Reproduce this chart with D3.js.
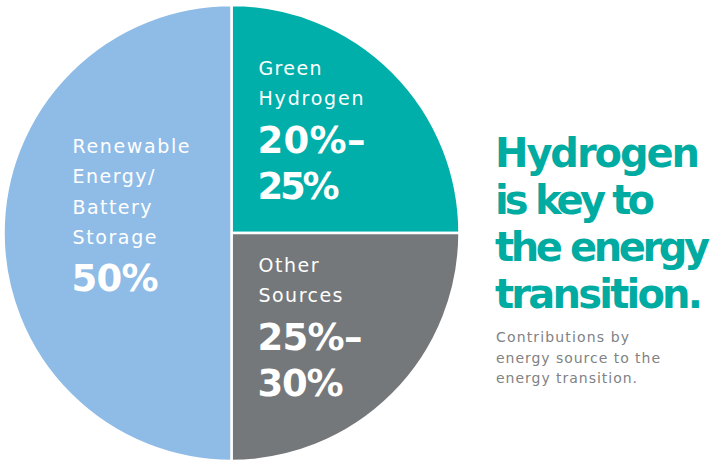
<!DOCTYPE html>
<html>
<head>
<meta charset="utf-8">
<script src="https://cdn.jsdelivr.net/npm/d3@7"></script>
<style>
  html, body { margin: 0; padding: 0; background: #fff; overflow: hidden; }
  svg { display: block; }
</style>
</head>
<body>
<svg id="chart"></svg>
<script>
// ---- data ----
var categories = ["Green Hydrogen", "Other Sources", "Renewable Energy/Battery Storage"];
var shares = [25, 25, 50];
var nameLines = [["Green", "Hydrogen"], ["Other", "Sources"], ["Renewable", "Energy/", "Battery", "Storage"]];
var valueLines = [["20%–", "25%"], ["25%–", "30%"], ["50%"]];
var colors = ["#00afa9", "#75787b", "#8fbce6"];
var titleLines = ["Hydrogen", "is key to", "the energy", "transition."];
var subtitleLines = ["Contributions by", "energy source to the", "energy transition."];

(function drawChart() {
  var width = 713,
    height = 461,
    cx = 231.5,
    cy = 233,
    radius = 228;

  var svg = d3.select("#chart")
    .attr("width", width)
    .attr("height", height);

  var data = categories.map(function(c, i) {
    return { name: c, value: shares[i], color: colors[i], names: nameLines[i], values: valueLines[i] };
  });

  var pie = d3.pie()
    .sort(null)
    .value(function(d) { return d.value; });

  var arc = d3.arc()
    .innerRadius(0)
    .outerRadius(radius);

  var g = svg.append("g")
    .attr("transform", "translate(" + cx + "," + cy + ")");

  g.selectAll("path")
    .data(pie(data))
    .enter().append("path")
    .attr("d", arc)
    .style("fill", function(d) { return d.data.color; })
    .style("stroke", "#fff")
    .style("stroke-width", "2.5px");

  // label blocks: left edge and first baseline, relative to pie centre
  var labelPos = [[27, -158], [27, 39], [-159, -80]];
  var nameWidths = [[63, 105], [60, 84], [117, 82, 79, 84]];
  var valueWidths = [[108, 82], [105, 86], [87]];

  var labels = g.selectAll(".label")
    .data(data)
    .enter().append("g")
    .attr("class", "label")
    .attr("transform", function(d, i) {
      return "translate(" + labelPos[i][0] + "," + labelPos[i][1] + ")";
    });

  labels.each(function(d, i) {
    var sel = d3.select(this);
    d.names.forEach(function(t, j) {
      sel.append("text")
        .attr("x", 0)
        .attr("y", j * 30.3)
        .attr("textLength", nameWidths[i][j])
        .style("font-family", "'DejaVu Sans', sans-serif")
        .style("font-size", "19px")
        .style("fill", "#fff")
        .text(t);
    });
    var base = (d.names.length - 1) * 30.3;
    d.values.forEach(function(t, j) {
      sel.append("text")
        .attr("x", -1)
        .attr("y", base + 47.5 + j * 46.5)
        .attr("textLength", valueWidths[i][j])
        .style("font-family", "'DejaVu Sans', sans-serif")
        .style("font-weight", "bold")
        .style("font-size", "37px")
        .style("fill", "#fff")
        .text(t);
    });
  });

  // title
  var titleWidths = [205, 160, 215, 208];
  svg.append("g")
    .selectAll("text")
    .data(titleLines)
    .enter().append("text")
    .attr("x", 495)
    .attr("y", function(d, i) { return 167 + i * 47; })
    .attr("textLength", function(d, i) { return titleWidths[i]; })
    .style("font-family", "'DejaVu Sans', sans-serif")
    .style("font-weight", "bold")
    .style("font-size", "40px")
    .style("fill", "#00aba1")
    .text(function(d) { return d; });

  var subWidths = [133, 164, 141];
  svg.append("g")
    .selectAll("text")
    .data(subtitleLines)
    .enter().append("text")
    .attr("x", 496)
    .attr("y", function(d, i) { return 342 + i * 20.5; })
    .attr("textLength", function(d, i) { return subWidths[i]; })
    .style("font-family", "'DejaVu Sans', sans-serif")
    .style("font-size", "14px")
    .style("fill", "#808285")
    .text(function(d) { return d; });
})();
</script>
</body>
</html>
